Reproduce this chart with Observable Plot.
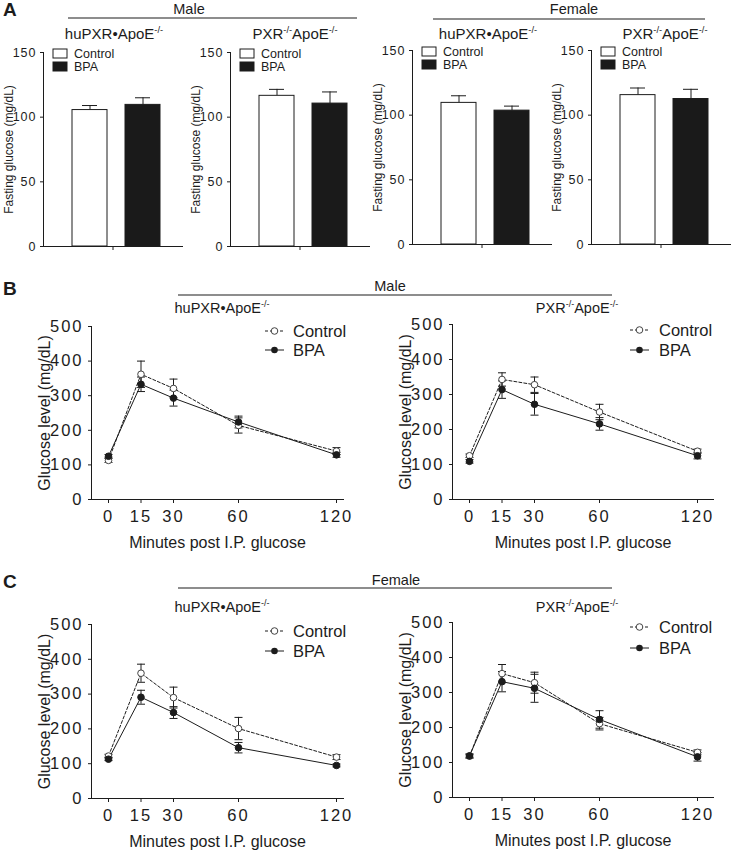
<!DOCTYPE html>
<html><head><meta charset="utf-8">
<script src="https://cdn.jsdelivr.net/npm/d3@7"></script>
<script src="https://cdn.jsdelivr.net/npm/@observablehq/plot@0.6"></script>
<style>
body{margin:0;background:#fff;}
#fig{position:relative;width:739px;height:850px;overflow:hidden;background:#fff;}
#fig svg{position:absolute;}
.bar [aria-label="y-axis tick label"] text{letter-spacing:1px;font-size:12.5px;}
.ln [aria-label$="tick label"] text{letter-spacing:2px;font-size:16.5px;}
</style></head>
<body><div id="fig"></div>
<script>
// ---------- DATA ----------
const treatments = ["Control", "BPA"];
// Panel A: fasting glucose (mg/dL), mean and SEM for [Control, BPA]
const maleHuMean = [105.5, 109.5], maleHuSem = [3.5, 5.5];
const malePxrMean = [116.5, 110.5], malePxrSem = [5, 9];
const femaleHuMean = [109.5, 103.5], femaleHuSem = [5.5, 3.5];
const femalePxrMean = [115.5, 112.5], femalePxrSem = [5.5, 7.5];
// Panels B, C: glucose tolerance test
const times = [0, 15, 30, 60, 120];
const bHuCtrl = [113, 362, 321, 214, 140], bHuCtrlSem = [6, 38, 27, 22, 10];
const bHuBpa = [125, 333, 293, 224, 129], bHuBpaSem = [5, 21, 23, 17, 7];
const bPxrCtrl = [125, 343, 328, 250, 138], bPxrCtrlSem = [5, 19, 22, 22, 6];
const bPxrBpa = [109, 314, 272, 216, 125], bPxrBpaSem = [5, 25, 31, 18, 9];
const cHuCtrl = [122, 360, 290, 201, 119], cHuCtrlSem = [5, 26, 30, 32, 7];
const cHuBpa = [113, 291, 247, 146, 95], cHuBpaSem = [4, 20, 17, 15, 4];
const cPxrCtrl = [118, 354, 328, 211, 129], cPxrCtrlSem = [6, 26, 30, 18, 7];
const cPxrBpa = [119, 331, 312, 223, 116], cPxrBpaSem = [5, 29, 40, 25, 12];
const yTicksA = [0, 50, 100, 150];
const yTicksGtt = [0, 100, 200, 300, 400, 500];

// ---------- STYLE ----------
const FONT = 'Arial, "Liberation Sans", Helvetica, sans-serif';
const INK = "#1c1c1c";
const fig = document.getElementById("fig");
const capSymbol = {draw(ctx, size) { const r = Math.sqrt(size / Math.PI); ctx.moveTo(-r, 0); ctx.lineTo(r, 0); }};

function place(svg, left, top, cls) {
  svg.style.left = left + "px";
  svg.style.top = top + "px";
  svg.classList.add(cls);
  fig.appendChild(svg);
}

function barChart(left, top, mean, sem, genotype) {
  const data = treatments.map((t, i) => ({genotype, treatment: t, mean: mean[i], top: mean[i] + sem[i]}));
  const svg = Plot.plot({
    width: 185, height: 214,
    marginLeft: 43, marginRight: 3, marginTop: 12, marginBottom: 8,
    style: {fontFamily: FONT, fontSize: "12px", background: "transparent", color: INK, overflow: "visible"},
    fx: {domain: [genotype], padding: 0, axis: "bottom", tickSize: 4, tickFormat: () => "", label: null},
    x: {domain: treatments, paddingInner: 0.34, paddingOuter: 0.48, align: 0.57, axis: null},
    y: {domain: [0, 150], ticks: yTicksA, tickSize: 3, tickPadding: 4,
        label: "Fasting glucose (mg/dL)", labelAnchor: "center", labelArrow: "none", labelOffset: 39},
    color: {domain: treatments, range: ["#ffffff", "#1a1a1a"]},
    marks: [
      Plot.frame({anchor: "left", stroke: INK}),
      Plot.frame({anchor: "bottom", stroke: INK}),
      Plot.ruleX(data, {fx: "genotype", x: "treatment", y1: "mean", y2: "top", stroke: INK}),
      Plot.tickY(data, {fx: "genotype", x: "treatment", y: "top", insetLeft: 10, insetRight: 10, stroke: INK}),
      Plot.barY(data, {fx: "genotype", x: "treatment", y: "mean", fill: "treatment", stroke: INK, strokeWidth: 1})
    ]
  });
  place(svg, left, top, "bar");
}

function lineChart(left, y500, y0, end, ctrl, ctrlSem, bpa, bpaSem) {
  const top = y500 - 10;
  const marginBottom = 58;
  const height = (y0 - top) + marginBottom;
  const width = end - left + 3;
  const mk = (g, v, s) => times.map((t, i) => ({time: t, group: g, glucose: v[i], lo: v[i] - s[i], hi: v[i] + s[i]}));
  const c = mk("Control", ctrl, ctrlSem), b = mk("BPA", bpa, bpaSem);
  const all = c.concat(b);
  const svg = Plot.plot({
    width, height,
    marginLeft: 91, marginRight: 3, marginTop: 10, marginBottom,
    style: {fontFamily: FONT, fontSize: "16px", background: "transparent", color: INK, overflow: "visible"},
    x: {type: "linear", domain: [0, 60, 120], range: [108, 238, 336], ticks: times, tickSize: 4, tickPadding: 7,
        label: "Minutes post I.P. glucose", labelAnchor: "center", labelArrow: "none", labelOffset: 48},
    y: {domain: [0, 500], ticks: yTicksGtt, tickSize: 3, tickPadding: 5,
        label: "Glucose level (mg/dL)", labelAnchor: "center", labelArrow: "none", labelOffset: 53},
    marks: [
      Plot.frame({anchor: "left", stroke: INK}),
      Plot.frame({anchor: "bottom", stroke: INK}),
      Plot.ruleX(all, {x: "time", y1: "lo", y2: "hi", stroke: INK, strokeWidth: 1}),
      Plot.dot(all, {x: "time", y: "hi", symbol: capSymbol, r: 4, fill: "none", stroke: INK, strokeWidth: 1}),
      Plot.dot(all, {x: "time", y: "lo", symbol: capSymbol, r: 4, fill: "none", stroke: INK, strokeWidth: 1}),
      Plot.line(c, {x: "time", y: "glucose", stroke: INK, strokeWidth: 1, strokeDasharray: "3,2"}),
      Plot.line(b, {x: "time", y: "glucose", stroke: INK, strokeWidth: 1}),
      Plot.dot(c, {x: "time", y: "glucose", r: 3.3, fill: "white", stroke: "#444", strokeWidth: 1}),
      Plot.dot(b, {x: "time", y: "glucose", r: 3.3, fill: INK, stroke: INK, strokeWidth: 1})
    ]
  });
  place(svg, left, top, "ln");
}

// Panel A
barChart(0, 40, maleHuMean, maleHuSem, "huPXR•ApoE-/-");
barChart(187, 40, malePxrMean, malePxrSem, "PXR-/-ApoE-/-");
barChart(369, 38, femaleHuMean, femaleHuSem, "huPXR•ApoE-/-");
barChart(548, 38, femalePxrMean, femalePxrSem, "PXR-/-ApoE-/-");
// Panel B
lineChart(0, 326, 499, 343, bHuCtrl, bHuCtrlSem, bHuBpa, bHuBpaSem);
lineChart(361, 324, 499, 713, bPxrCtrl, bPxrCtrlSem, bPxrBpa, bPxrBpaSem);
// Panel C
lineChart(0, 624, 798, 343, cHuCtrl, cHuCtrlSem, cHuBpa, cHuBpaSem);
lineChart(361, 622, 797, 713, cPxrCtrl, cPxrCtrlSem, cPxrBpa, cPxrBpaSem);

// ---------- ANNOTATIONS ----------
const ann = d3.select(fig).append("svg").attr("width", 739).attr("height", 850)
  .style("left", "0px").style("top", "0px").style("pointer-events", "none")
  .attr("font-family", FONT).attr("fill", INK);

function label(x, y, txt, size, weight, anchor) {
  ann.append("text").attr("x", x).attr("y", y).attr("font-size", size)
    .attr("font-weight", weight || "normal").attr("text-anchor", anchor || "middle").text(txt);
}
function hline(x1, x2, y) {
  ann.append("line").attr("x1", x1).attr("x2", x2).attr("y1", y).attr("y2", y)
    .attr("stroke", INK).attr("stroke-width", 1.2);
}
// genotype label with superscripts: parts = [[text, sup?], ...]
function geno(x, y, size, parts) {
  const t = ann.append("text").attr("x", x).attr("y", y).attr("font-size", size).attr("text-anchor", "middle");
  const rise = size * 0.42;
  let raised = false;
  parts.forEach(([s, sup]) => {
    const ts = t.append("tspan").text(s);
    if (sup) {
      ts.attr("font-size", size * 0.62);
      if (!raised) { ts.attr("dy", -rise); raised = true; }
    } else if (raised) { ts.attr("dy", rise); raised = false; }
  });
}
const hu = [["huPXR•ApoE"], ["-/-", true]];
const ko = [["PXR"], ["-/-", true], ["ApoE"], ["-/-", true]];

// A
label(3, 16, "A", 19, "bold", "start");
label(189, 14, "Male", 14.5); hline(68, 357, 18);
label(574, 14, "Female", 14.5); hline(433, 705, 19);
geno(114, 39, 15, hu); geno(295, 39, 15, ko);
geno(488, 39, 15, hu); geno(665, 39, 15, ko);

function barLegend(ax, y) {
  ann.append("rect").attr("x", ax + 10).attr("y", y).attr("width", 14).attr("height", 9)
    .attr("fill", "white").attr("stroke", INK);
  ann.append("rect").attr("x", ax + 10).attr("y", y + 13).attr("width", 14).attr("height", 9)
    .attr("fill", "#1a1a1a").attr("stroke", INK);
  label(ax + 31, y + 8.8, "Control", 12.5, "normal", "start");
  label(ax + 31, y + 21.8, "BPA", 12.5, "normal", "start");
}
barLegend(43, 49); barLegend(230, 49); barLegend(412, 47); barLegend(591, 47);

// B / C
label(3, 295, "B", 19, "bold", "start");
label(390, 291, "Male", 14.5); hline(178, 612, 295);
geno(222, 313, 14.5, hu); geno(577, 313, 14.5, ko);
label(3, 588, "C", 19, "bold", "start");
label(396, 585, "Female", 14.5); hline(178, 612, 588);
geno(222, 612, 14.5, hu); geno(577, 612, 14.5, ko);

function lineLegend(x1, x2, tx, yc, yb) {
  ann.append("line").attr("x1", x1).attr("x2", x2).attr("y1", yc).attr("y2", yc)
    .attr("stroke", INK).attr("stroke-dasharray", "3,2");
  ann.append("circle").attr("cx", (x1 + x2) / 2).attr("cy", yc).attr("r", 3.3)
    .attr("fill", "white").attr("stroke", "#444");
  ann.append("line").attr("x1", x1).attr("x2", x2).attr("y1", yb).attr("y2", yb).attr("stroke", INK);
  ann.append("circle").attr("cx", (x1 + x2) / 2).attr("cy", yb).attr("r", 3.3).attr("fill", INK);
  label(tx, yc + 5.7, "Control", 16.5, "normal", "start");
  label(tx, yb + 5.7, "BPA", 16.5, "normal", "start");
}
lineLegend(265, 284, 293, 331, 350);
lineLegend(630, 649, 659, 330, 350);
lineLegend(265, 284, 293, 631, 651);
lineLegend(630, 649, 659, 627, 648);
</script>
</body></html>
